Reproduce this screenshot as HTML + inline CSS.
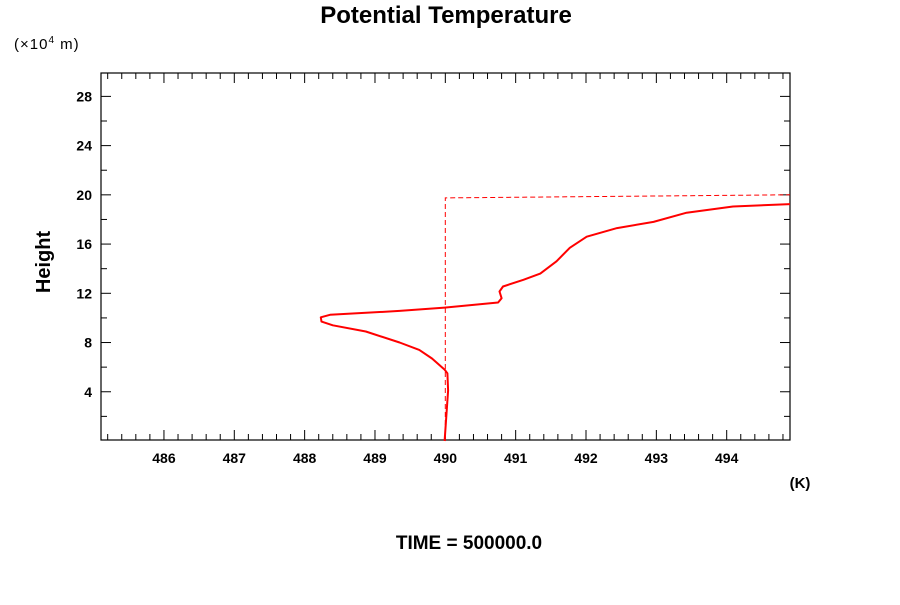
<!DOCTYPE html>
<html><head><meta charset="utf-8"><style>
body{margin:0;background:#fff;width:900px;height:600px;overflow:hidden}
svg text{font-family:"Liberation Sans",sans-serif}
</style></head><body>
<svg id="chart" width="900" height="600" xmlns="http://www.w3.org/2000/svg">
<text x="446" y="23" text-anchor="middle" font-size="24" font-weight="bold">Potential Temperature</text>
<text x="14" y="49" font-size="15" letter-spacing="1">(×10<tspan font-size="10" dy="-6">4</tspan><tspan dy="6"> m)</tspan></text>
<text transform="translate(50,262) rotate(-90)" text-anchor="middle" font-size="20" font-weight="bold">Height</text>
<text x="800" y="488" text-anchor="middle" font-size="15" font-weight="bold">(K)</text>
<text x="469" y="549" text-anchor="middle" font-size="19" font-weight="bold">TIME = 500000.0</text>
<g id="axes"></g>
<g id="series"></g>
</svg>
<script>
const xTicks=[486,487,488,489,490,491,492,493,494];
const yTicks=[4,8,12,16,20,24,28];
const profileTheta=[489.99,490.04,490.03,489.99,489.81,489.63,489.35,488.87,488.40,488.24,488.23,488.36,489.35,489.99,490.75,490.80,490.77,490.82,491.11,491.35,491.58,491.77,492.01,492.44,492.96,493.43,494.09,494.9];
const profileHeight=[0,4.1,5.5,5.8,6.7,7.4,8.0,8.9,9.4,9.7,10.05,10.25,10.57,10.84,11.25,11.6,12.15,12.55,13.1,13.6,14.6,15.7,16.6,17.3,17.8,18.55,19.05,19.25];
const initTheta=[490,490,494.9];
const initHeight=[0,19.75,20.0];

const X0=101,X1=790,Y0=73,Y1=440;
const xMin=485.105,xMax=494.9,yMin=0.08,yMax=29.9;
const sx=v=>X0+(v-xMin)/(xMax-xMin)*(X1-X0);
const sy=v=>Y1-(v-yMin)/(yMax-yMin)*(Y1-Y0);
const NS="http://www.w3.org/2000/svg";
const axes=document.getElementById('axes'),series=document.getElementById('series');
function mk(tag,attrs,parent){const e=document.createElementNS(NS,tag);for(const k in attrs)e.setAttribute(k,attrs[k]);parent.appendChild(e);return e;}

const frame=mk('rect',{x:X0,y:Y0,width:X1-X0,height:Y1-Y0,fill:'none',stroke:'#000','stroke-width':1.2},axes);



// x ticks: minor every 0.2
for(let i=Math.ceil(xMin*5);i<=Math.floor(xMax*5);i++){
  const v=i/5,x=sx(v),major=(i%5===0),L=major?10:6;
  const t1=mk('line',{x1:x,y1:Y1,x2:x,y2:Y1-L,stroke:'#000'},axes);
  
  
  const t2=mk('line',{x1:x,y1:Y0,x2:x,y2:Y0+L,stroke:'#000'},axes);
  
  
}
xTicks.forEach(v=>{
  const t=mk('text',{x:sx(v),y:Y1+23,'text-anchor':'middle','font-size':14,'font-weight':'bold'},axes);
  t.textContent=v;
  
  
});
// y ticks: minor every 2
for(let v=2;v<=yMax;v+=2){
  const y=sy(v),major=(v%4===0),L=major?10:6;
  const t1=mk('line',{x1:X0,y1:y,x2:X0+L,y2:y,stroke:'#000'},axes);
  
  
  const t2=mk('line',{x1:X1,y1:y,x2:X1-L,y2:y,stroke:'#000'},axes);
  
  
}
yTicks.forEach(v=>{
  const t=mk('text',{x:X0-9,y:sy(v)+5,'text-anchor':'end','font-size':14,'font-weight':'bold'},axes);
  t.textContent=v;
  
  
});

const pts=(a,b)=>a.map((v,i)=>sx(v).toFixed(1)+','+sy(b[i]).toFixed(1)).join(' ');
const init=mk('polyline',{points:pts(initTheta,initHeight),fill:'none',stroke:'#f00','stroke-width':1,'stroke-dasharray':'5,3'},series);


const prof=mk('polyline',{points:pts(profileTheta,profileHeight),fill:'none',stroke:'#f00','stroke-width':2,'stroke-linejoin':'round'},series);


</script>
</body></html>
